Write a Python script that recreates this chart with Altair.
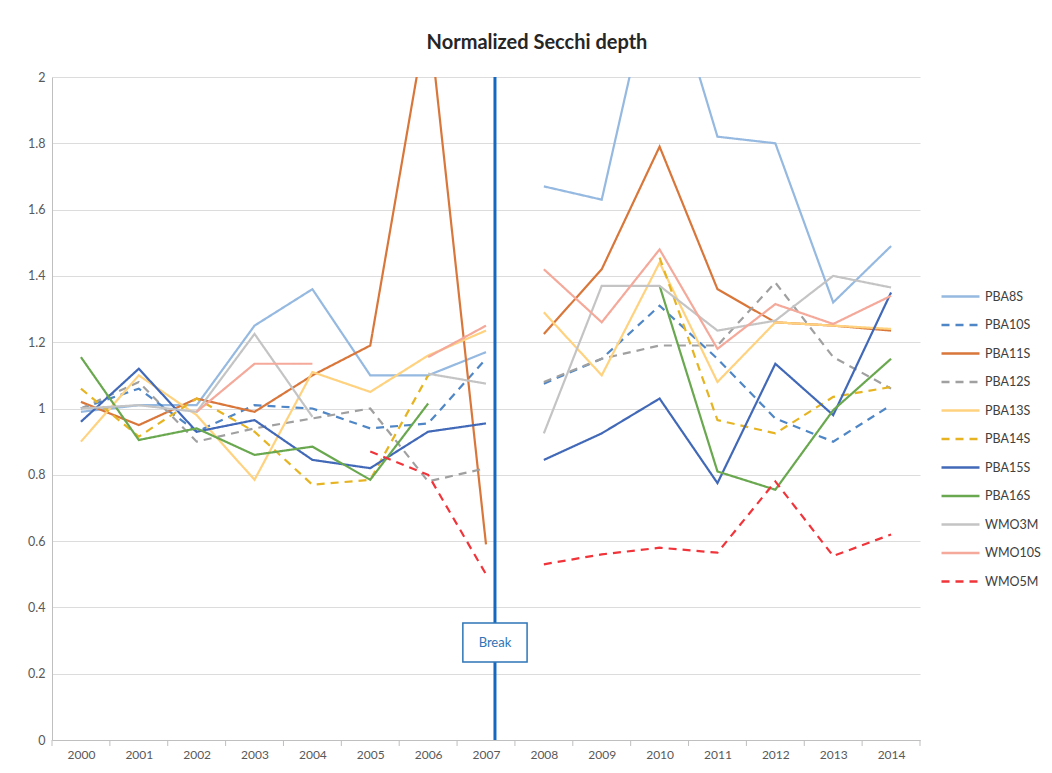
import altair as alt
import pandas as pd

years = list(range(2000, 2015))

series_names = ["PBA8S", "PBA10S", "PBA11S", "PBA12S", "PBA13S", "PBA14S",
                "PBA15S", "PBA16S", "WMO3M", "WMO10S", "WMO5M"]

PBA8S = [0.99, 1.01, 1.01, 1.25, 1.36, 1.10, 1.10, 1.17, 1.67, 1.63, 2.40, 1.82, 1.80, 1.32, 1.49]
PBA10S = [1.00, 1.06, 0.93, 1.01, 1.00, 0.94, 0.955, 1.15, 1.075, 1.15, 1.31, 1.15, 0.97, 0.90, 1.01]
PBA11S = [1.02, 0.95, 1.03, 0.99, 1.10, 1.19, 2.20, 0.59, 1.225, 1.42, 1.79, 1.36, 1.26, 1.25, 1.235]
PBA12S = [1.00, 1.08, 0.90, 0.94, 0.97, 1.00, 0.78, 0.82, 1.08, 1.15, 1.19, 1.19, 1.38, 1.155, 1.06]
PBA13S = [0.90, 1.10, 0.98, 0.785, 1.11, 1.05, 1.16, 1.235, 1.29, 1.10, 1.44, 1.08, 1.26, 1.25, 1.24]
PBA14S = [1.06, 0.915, 1.03, 0.93, 0.77, 0.785, 1.10, None, None, None, 1.455, 0.965, 0.925, 1.035, 1.065]
PBA15S = [0.96, 1.12, 0.93, 0.965, 0.845, 0.82, 0.93, 0.955, 0.845, 0.925, 1.03, 0.775, 1.135, 0.98, 1.35]
PBA16S = [1.155, 0.905, 0.94, 0.86, 0.885, 0.785, 1.015, None, None, None, 1.37, 0.81, 0.755, 0.995, 1.15]
WMO3M = [1.00, 1.01, 0.99, 1.225, 0.975, None, 1.105, 1.075, 0.925, 1.37, 1.37, 1.235, 1.265, 1.40, 1.365]
WMO10S = [None, None, 0.99, 1.135, 1.135, None, 1.155, 1.25, 1.42, 1.26, 1.48, 1.18, 1.315, 1.255, 1.34]
WMO5M = [None, None, None, None, None, 0.87, 0.80, 0.50, 0.53, 0.56, 0.58, 0.565, 0.78, 0.555, 0.62]

series_values = [PBA8S, PBA10S, PBA11S, PBA12S, PBA13S, PBA14S,
                 PBA15S, PBA16S, WMO3M, WMO10S, WMO5M]

series_colors = ["#95B9E0", "#4F86C6", "#D9763A", "#A0A0A0", "#FFD27F", "#E6B422",
                 "#4169B8", "#6AA84F", "#C4C4C4", "#F4A99A", "#F0343A"]
series_dashes = [[1, 0], [8, 6], [1, 0], [8, 6], [1, 0], [8, 6],
                 [1, 0], [1, 0], [1, 0], [1, 0], [8, 6]]

y_ticks = [0, 0.2, 0.4, 0.6, 0.8, 1.0, 1.2, 1.4, 1.6, 1.8, 2.0]
break_year = [2007.155]
break_label = ["Break"]
break_box = {"x": [2006.60], "x2": [2007.71], "y": [0.235], "y2": [0.353]}

rows = []
for name, vals in zip(series_names, series_values):
    for yr, v in zip(years, vals):
        rows.append({"series": name, "year": yr, "value": v,
                     "segment": "before" if yr <= 2007 else "after"})
df = pd.DataFrame(rows)

W, H = 868, 663
FONT = "Lato"

xscale = alt.Scale(domain=[1999.5, 2014.5], nice=False, zero=False)
yscale = alt.Scale(domain=[0, 2], nice=False)

legend = alt.Legend(orient="none", legendX=888, legendY=199, title=None,
                    symbolType="stroke", symbolSize=1444, symbolStrokeWidth=2.5,
                    labelFontSize=12.5, labelColor="#404040", labelFont=FONT,
                    rowPadding=1.5, labelOffset=4, labelLimit=80)

lines = alt.Chart(df).mark_line(clip=True, strokeWidth=2.2).encode(
    x=alt.X("year:Q", scale=xscale,
            axis=alt.Axis(values=years, format="d", title=None, grid=False, ticks=False,
                          domainColor="#BFBFBF", labelFontSize=12, labelColor="#595959",
                          labelFont=FONT, labelPadding=9)),
    y=alt.Y("value:Q", scale=yscale,
            axis=alt.Axis(values=y_ticks, format="~g", title=None, ticks=False,
                          gridColor="#DCDCDC", domainColor="#BFBFBF", labelFontSize=12.5,
                          labelColor="#595959", labelFont=FONT, labelPadding=7)),
    color=alt.Color("series:N", scale=alt.Scale(domain=series_names, range=series_colors),
                    legend=legend),
    strokeDash=alt.StrokeDash("series:N", scale=alt.Scale(domain=series_names, range=series_dashes),
                              legend=legend),
    detail="segment:N",
)

tick_df = pd.DataFrame({"b": [1999.5 + i for i in range(16)]})
ticks = alt.Chart(tick_df).mark_rule(color="#BFBFBF", strokeWidth=1).encode(
    x=alt.X("b:Q", scale=xscale),
    y=alt.value(H),
    y2=alt.value(H + 6),
)

brk = alt.Chart(pd.DataFrame({"x": break_year})).mark_rule(color="#1568BF", strokeWidth=3).encode(
    x=alt.X("x:Q", scale=xscale),
    y=alt.datum(0, scale=yscale),
    y2=alt.datum(2),
)

box = alt.Chart(pd.DataFrame(break_box)).mark_rect(fill="white", stroke="#2E75B6", strokeWidth=1.5).encode(
    x=alt.X("x:Q", scale=xscale), x2="x2:Q",
    y=alt.Y("y:Q", scale=yscale), y2="y2:Q",
)

txt = alt.Chart(pd.DataFrame({"x": break_year, "y": [0.294], "t": break_label})).mark_text(
    color="#2E75B6", fontSize=13, font=FONT, align="center", baseline="middle"
).encode(
    x=alt.X("x:Q", scale=xscale),
    y=alt.Y("y:Q", scale=yscale),
    text="t:N",
)

chart = alt.layer(lines, ticks, brk, box, txt).properties(
    width=W, height=H,
    autosize=alt.AutoSizeParams(type="none"),
    padding={"left": 44, "top": 69, "right": 124, "bottom": 25},
    title=alt.TitleParams("Normalized Secchi depth", fontSize=20, fontWeight="bold",
                          color="#262626", font=FONT, anchor="middle", dx=51, offset=18),
).configure_view(stroke=None)

chart.save("out.html", embed_options={"renderer": "svg", "actions": False})
